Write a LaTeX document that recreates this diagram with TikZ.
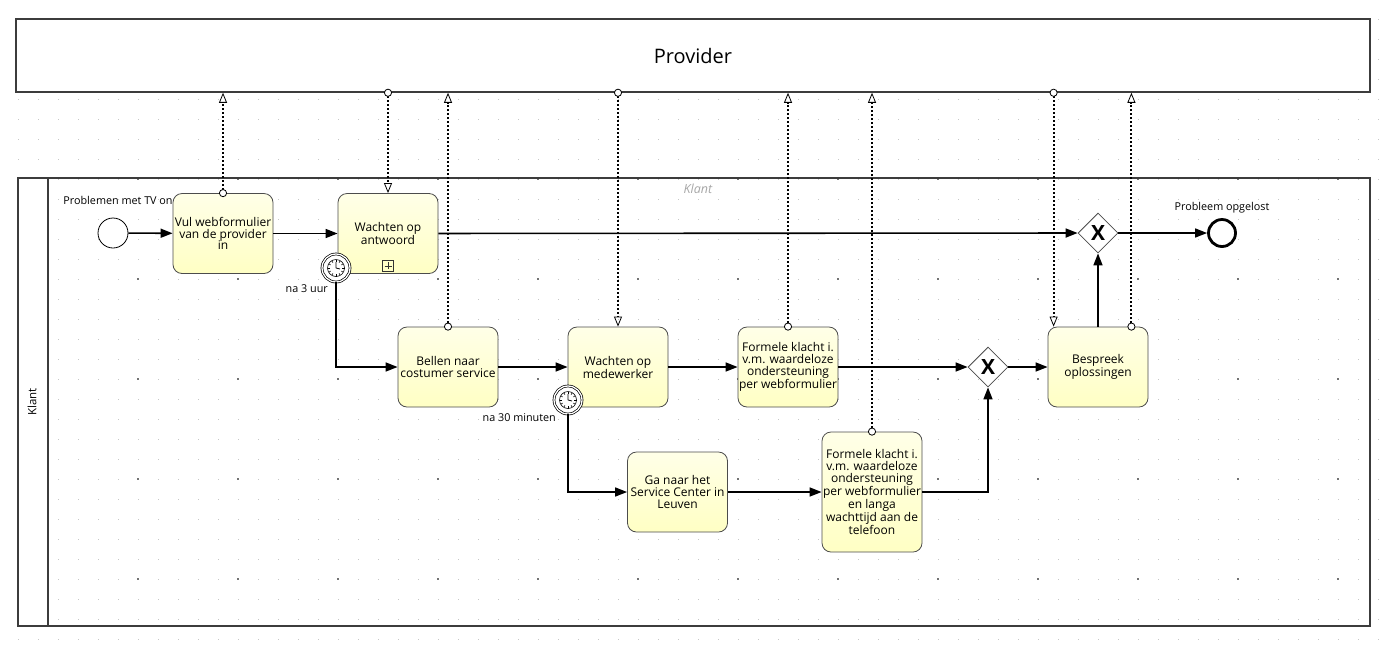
\documentclass[tikz,border=0pt]{standalone}
\usepackage{fontspec}
\setmainfont{Open Sans}
\usetikzlibrary{arrows.meta,shapes.geometric}
\definecolor{taskyellow}{RGB}{255,255,196}
\definecolor{poolline}{RGB}{60,60,60}
\begin{document}
\begin{tikzpicture}[x=1pt,y=-1pt]
        % Styles
        \tikzstyle{pool}=[draw=poolline,line width=1.5pt]
        \tikzstyle{task}=[draw=black!70,line width=0.8pt,rounded corners=9pt,top color=white!60!taskyellow,bottom color=taskyellow,minimum width=100pt,minimum height=80pt,inner sep=1pt,align=center,font=\fontsize{12}{11.7}\selectfont]
        \tikzstyle{event}=[circle,draw,fill=white,line width=0.8pt,minimum size=30pt,inner sep=0pt]
        \tikzstyle{end event}=[circle,draw,fill=white,line width=2.8pt,minimum size=27pt,inner sep=0pt]
        \tikzstyle{timer}=[circle,draw,fill=white,line width=0.7pt,double,double distance=1.3pt,minimum size=28pt,inner sep=0pt]
        \tikzstyle{gateway}=[diamond,draw=black!70,fill=white,line width=0.8pt,minimum width=40pt,minimum height=40pt,inner sep=0pt,font=\fontsize{21}{21}\bfseries\selectfont]
        \tikzstyle{submarker}=[draw=black!80,line width=0.7pt,minimum size=11pt,inner sep=0pt,
            path picture={\draw[line width=0.7pt,shorten <=2pt,shorten >=2pt] (path picture bounding box.north) -- (path picture bounding box.south);
                          \draw[line width=0.7pt,shorten <=2pt,shorten >=2pt] (path picture bounding box.west) -- (path picture bounding box.east);}]
        \tikzstyle{seq}=[line width=1.6pt,-{Triangle[length=12pt,width=9pt]}]
        \tikzstyle{msg}=[line width=2pt,dash pattern=on 2pt off 2pt,{Circle[fill=white,length=8pt,line width=0.8pt]}-{Triangle[open,length=10pt,width=8pt,line width=0.8pt]},shorten <=-4pt]
        \tikzstyle{label text}=[font=\fontsize{10.8}{11}\selectfont,inner sep=1pt]
        \tikzset{clock face/.pic={
            \draw[line width=0.6pt,fill=white] (0,0) circle (8.5);
            \foreach \a in {0,30,...,330} \draw[line width=0.5pt] (\a:6) -- (\a:8.5);
            \draw[line width=0.8pt] (0,0) -- (0,-6) (0,0) -- (4,1);
        }}
        \useasboundingbox (0,0) rectangle (1397,649);
        %dot grid
        \foreach \x in {18,38,...,1378}
            \foreach \y in {19,39,...,639}
                \fill[black!22] (\x-0.5,\y-0.5) rectangle +(1,1);
        \foreach \x in {38,138,...,1338}
            \foreach \y in {79,179,...,579}
                \fill[black!55] (\x-0.75,\y-0.75) rectangle +(1.5,1.5);
        %pools
        \node[pool,fill=white,minimum width=1354pt,minimum height=73pt,font=\fontsize{20}{20}\selectfont] (provider) at (693,55.5) {Provider};
        \fill[white] (18,178) rectangle (48,626);
        \draw[pool] (18,178) rectangle (1370,626);
        \draw[pool] (48,178) -- (48,626);
        \node[rotate=90,font=\fontsize{11.5}{12}\selectfont] (klantlane) at (32,402) {Klant};
        \node[font=\fontsize{12.5}{12.5}\itshape\selectfont,text=black!35] (klanttitle) at (698,189) {Klant};
        %tasks and events
        \node[event] (start) at (113,233) {};
        \node[label text] (startlabel) at (118,200) {Problemen met TV on};
        \node[task] (vul) at (223,233.5) {Vul webformulier\\van de provider\\in};
        \node[task] (wachtAntw) at (388,233.5) {Wachten op\\antwoord};
        \node[submarker] (subAntw) at ([yshift=8pt]wachtAntw.south) {};
        \node[timer] (timerA) at (336,268) {};
        \pic at (timerA) {clock face};
        \node[label text,anchor=east] (timerAlabel) at (329,289) {na 3 uur};
        \node[task] (bellen) at (448,367) {Bellen naar\\costumer service};
        \node[task] (wachtMed) at (618,367) {Wachten op\\medewerker};
        \node[timer] (timerB) at (568,400) {};
        \pic at (timerB) {clock face};
        \node[label text,anchor=east] (timerBlabel) at (557,418) {na 30 minuten};
        \node[task] (klacht) at (788,367) {Formele klacht i.\\v.m. waardeloze\\ondersteuning\\per webformulier};
        \node[task] (gaNaar) at (677.5,492) {Ga naar het\\Service Center in\\Leuven};
        \node[task,minimum height=120pt] (klachtTel) at (872,492) {Formele klacht i.\\v.m. waardeloze\\ondersteuning\\per webformulier\\en langa\\wachttijd aan de\\telefoon};
        \node[gateway] (gwA) at (988,367) {X};
        \node[task] (bespreek) at (1098,367) {Bespreek\\oplossingen};
        \node[gateway] (gwB) at (1098,233) {X};
        \node[end event] (eind) at (1222,233) {};
        \node[label text] (eindlabel) at (1222,208) {Probleem opgelost};
        %sequence flows
        \draw[seq] (start) -- (vul);
        \draw[seq] (vul) -- (wachtAntw);
        \draw[seq] (wachtAntw) -- (gwB);
        \draw[seq] (timerA.south) |- (bellen.west);
        \draw[seq] (bellen) -- (wachtMed);
        \draw[seq] (wachtMed) -- (klacht);
        \draw[seq] (klacht) -- (gwA);
        \draw[seq] (timerB.south) |- (gaNaar.west);
        \draw[seq] (gaNaar) -- (klachtTel);
        \draw[seq] (klachtTel.east) -| (gwA.south);
        \draw[seq] (gwA) -- (bespreek);
        \draw[seq] (bespreek) -- (gwB);
        \draw[seq] (gwB) -- (eind);
        %message flows
        \coordinate (bespreekIn) at ([xshift=6pt]bespreek.north west);
        \coordinate (bespreekOut) at ([xshift=-17pt]bespreek.north east);
        \draw[msg] (vul.north) -- (vul.north |- provider.south);
        \draw[msg] (wachtAntw.north |- provider.south) -- (wachtAntw.north);
        \draw[msg] (bellen.north) -- (bellen.north |- provider.south);
        \draw[msg] (wachtMed.north |- provider.south) -- (wachtMed.north);
        \draw[msg] (klacht.north) -- (klacht.north |- provider.south);
        \draw[msg] (klachtTel.north) -- (klachtTel.north |- provider.south);
        \draw[msg] (bespreekIn |- provider.south) -- (bespreekIn);
        \draw[msg] (bespreekOut) -- (bespreekOut |- provider.south);
\end{tikzpicture}
\end{document}
